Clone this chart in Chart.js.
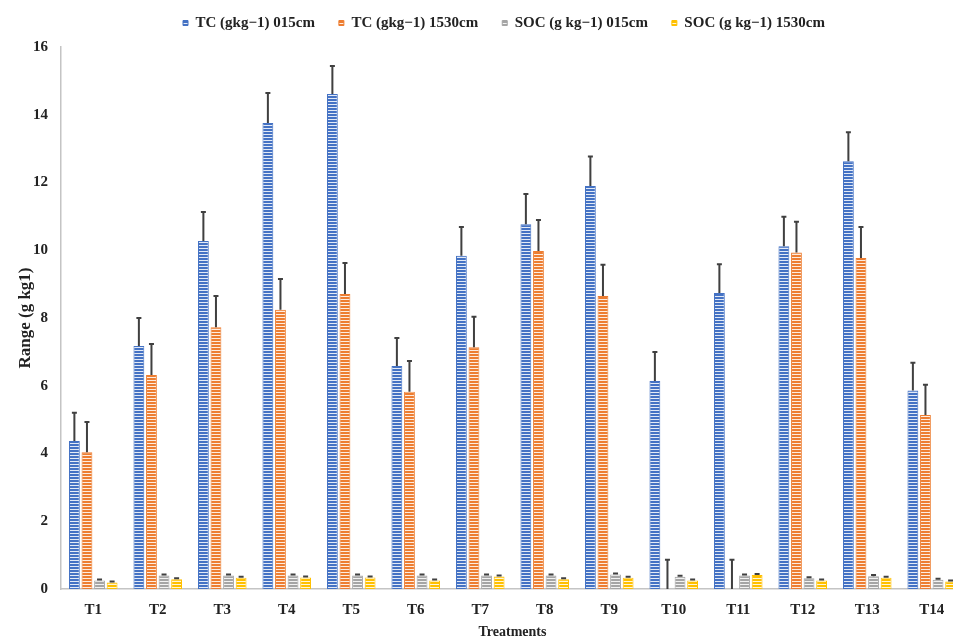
<!DOCTYPE html>
<html>
<head>
<meta charset="utf-8">
<script src="https://cdn.jsdelivr.net/npm/chart.js@4.4.1/dist/chart.umd.min.js"></script>
<style>
  html, body { margin: 0; padding: 0; background: #fff; overflow: hidden; }
  #wrap { width: 964px; height: 641px; }
</style>
</head>
<body>
<div id="wrap"><canvas id="rangeChart"></canvas></div>
<script>
// values
const treatments = ['T1', 'T2', 'T3', 'T4', 'T5', 'T6', 'T7', 'T8', 'T9', 'T10', 'T11', 'T12', 'T13', 'T14'];

const tc015 = [4.37, 7.17, 10.27, 13.76, 14.61, 6.58, 9.84, 10.77, 11.90, 6.14, 8.74, 10.12, 12.63, 5.86];
const tc015Err = [0.83, 0.83, 0.86, 0.88, 0.83, 0.83, 0.85, 0.89, 0.87, 0.86, 0.85, 0.87, 0.85, 0.82];

const tc1530 = [4.04, 6.32, 7.73, 8.24, 8.71, 5.82, 7.14, 9.98, 8.65, 0, 0, 9.93, 9.77, 5.14];
const tc1530Err = [0.89, 0.91, 0.92, 0.91, 0.91, 0.91, 0.90, 0.91, 0.92, 0.86, 0.86, 0.91, 0.92, 0.89];

const soc015 = [0.25, 0.40, 0.40, 0.40, 0.40, 0.40, 0.40, 0.40, 0.43, 0.36, 0.40, 0.32, 0.38, 0.27];
const soc015Err = [0.03, 0.03, 0.03, 0.03, 0.03, 0.03, 0.03, 0.03, 0.03, 0.03, 0.03, 0.03, 0.03, 0.03];

const soc1530 = [0.19, 0.29, 0.33, 0.34, 0.34, 0.25, 0.37, 0.29, 0.33, 0.25, 0.41, 0.25, 0.33, 0.22];
const soc1530Err = [0.03, 0.03, 0.03, 0.03, 0.03, 0.03, 0.03, 0.03, 0.03, 0.03, 0.03, 0.03, 0.03, 0.03];

const yTicks = [0, 2, 4, 6, 8, 10, 12, 14, 16];

const serif = "'Liberation Serif', 'Times New Roman', serif";

// horizontal stripe fill like the excel pattern
function stripes(color) {
    const c = document.createElement('canvas');
    c.width = 4;
    c.height = 3;
    const g = c.getContext('2d');
    g.fillStyle = color;
    g.fillRect(0, 0, 4, 3);
    g.fillStyle = 'rgba(255,255,255,0.85)';
    g.fillRect(0, 2, 4, 1);
    return g.createPattern(c, 'repeat');
}

// upper error bars, drawn from each dataset's errors array
const errorBars = {
    id: 'errorBars',
    afterDatasetsDraw(chart) {
        const ctx = chart.ctx;
        const y = chart.scales.y;
        ctx.save();
        ctx.strokeStyle = '#404040';
        ctx.lineWidth = 2;
        chart.data.datasets.forEach((ds, i) => {
            const meta = chart.getDatasetMeta(i);
            meta.data.forEach((bar, j) => {
                const base = y.getPixelForValue(ds.data[j]);
                const top = y.getPixelForValue(ds.data[j] + ds.errors[j]);
                ctx.beginPath();
                ctx.moveTo(bar.x, base);
                ctx.lineTo(bar.x, top);
                ctx.moveTo(bar.x - 2.5, top);
                ctx.lineTo(bar.x + 2.5, top);
                ctx.stroke();
            });
        });
        ctx.restore();
    }
};

// nudge the legend to where it sits in the picture
const legendShift = {
    id: 'legendShift',
    afterLayout(chart) {
        const lg = chart.legend;
        lg.left += 22;
        lg.right += 22;
        lg.top -= 6.5;
        lg.bottom -= 6.5;
    }
};

function dataset(label, data, errors, color) {
    return {
        label: label,
        data: data,
        errors: errors,
        backgroundColor: stripes(color),
        borderColor: color,
        borderWidth: 1,
        categoryPercentage: 0.78,
        barPercentage: 0.86
    };
}

const ctx = document.getElementById('rangeChart').getContext('2d');

const rangeChart = new Chart(ctx, {
    type: 'bar',
    data: {
        labels: treatments,
        datasets: [
            dataset('TC (gkg\u22121) 015cm', tc015, tc015Err, '#4472C4'),
            dataset('TC (gkg\u22121) 1530cm', tc1530, tc1530Err, '#ED7D31'),
            dataset('SOC (g kg\u22121) 015cm', soc015, soc015Err, '#A5A5A5'),
            dataset('SOC (g kg\u22121) 1530cm', soc1530, soc1530Err, '#FFC000')
        ]
    },
    options: {
        responsive: true,
        maintainAspectRatio: false,
        animation: false,
        layout: { padding: { top: -2, left: 0, right: 0, bottom: 0 } },
        plugins: {
            legend: {
                position: 'top',
                labels: {
                    boxWidth: 5,
                    boxHeight: 5,
                    padding: 24,
                    color: '#222',
                    font: { family: serif, size: 15, weight: 'bold' }
                }
            },
            tooltip: { enabled: false }
        },
        scales: {
            x: {
                afterFit(scale) {
                    scale.height = 52;
                },
                grid: { display: false, drawTicks: false },
                border: { color: '#c4c4c4', width: 1.5 },
                ticks: {
                    padding: 12,
                    color: '#222',
                    font: { family: serif, size: 15, weight: 'bold' }
                },
                title: {
                    display: true,
                    text: 'Treatments',
                    color: '#222',
                    padding: { top: 4, bottom: 0 },
                    font: { family: serif, size: 14, weight: 'bold' }
                }
            },
            y: {
                min: 0,
                max: 16,
                afterBuildTicks(scale) {
                    scale.ticks = yTicks.map(v => ({ value: v }));
                },
                afterFit(scale) {
                    scale.width = 61;
                },
                grid: { display: false, drawTicks: false },
                border: { color: '#c4c4c4', width: 1.5 },
                ticks: {
                    padding: 13,
                    color: '#222',
                    font: { family: serif, size: 15, weight: 'bold' }
                },
                title: {
                    display: true,
                    text: 'Range (g kg1)',
                    color: '#222',
                    padding: { top: 15, bottom: 0 },
                    font: { family: serif, size: 17, weight: 'bold' }
                }
            }
        }
    },
    plugins: [errorBars, legendShift]
});
</script>
</body>
</html>
